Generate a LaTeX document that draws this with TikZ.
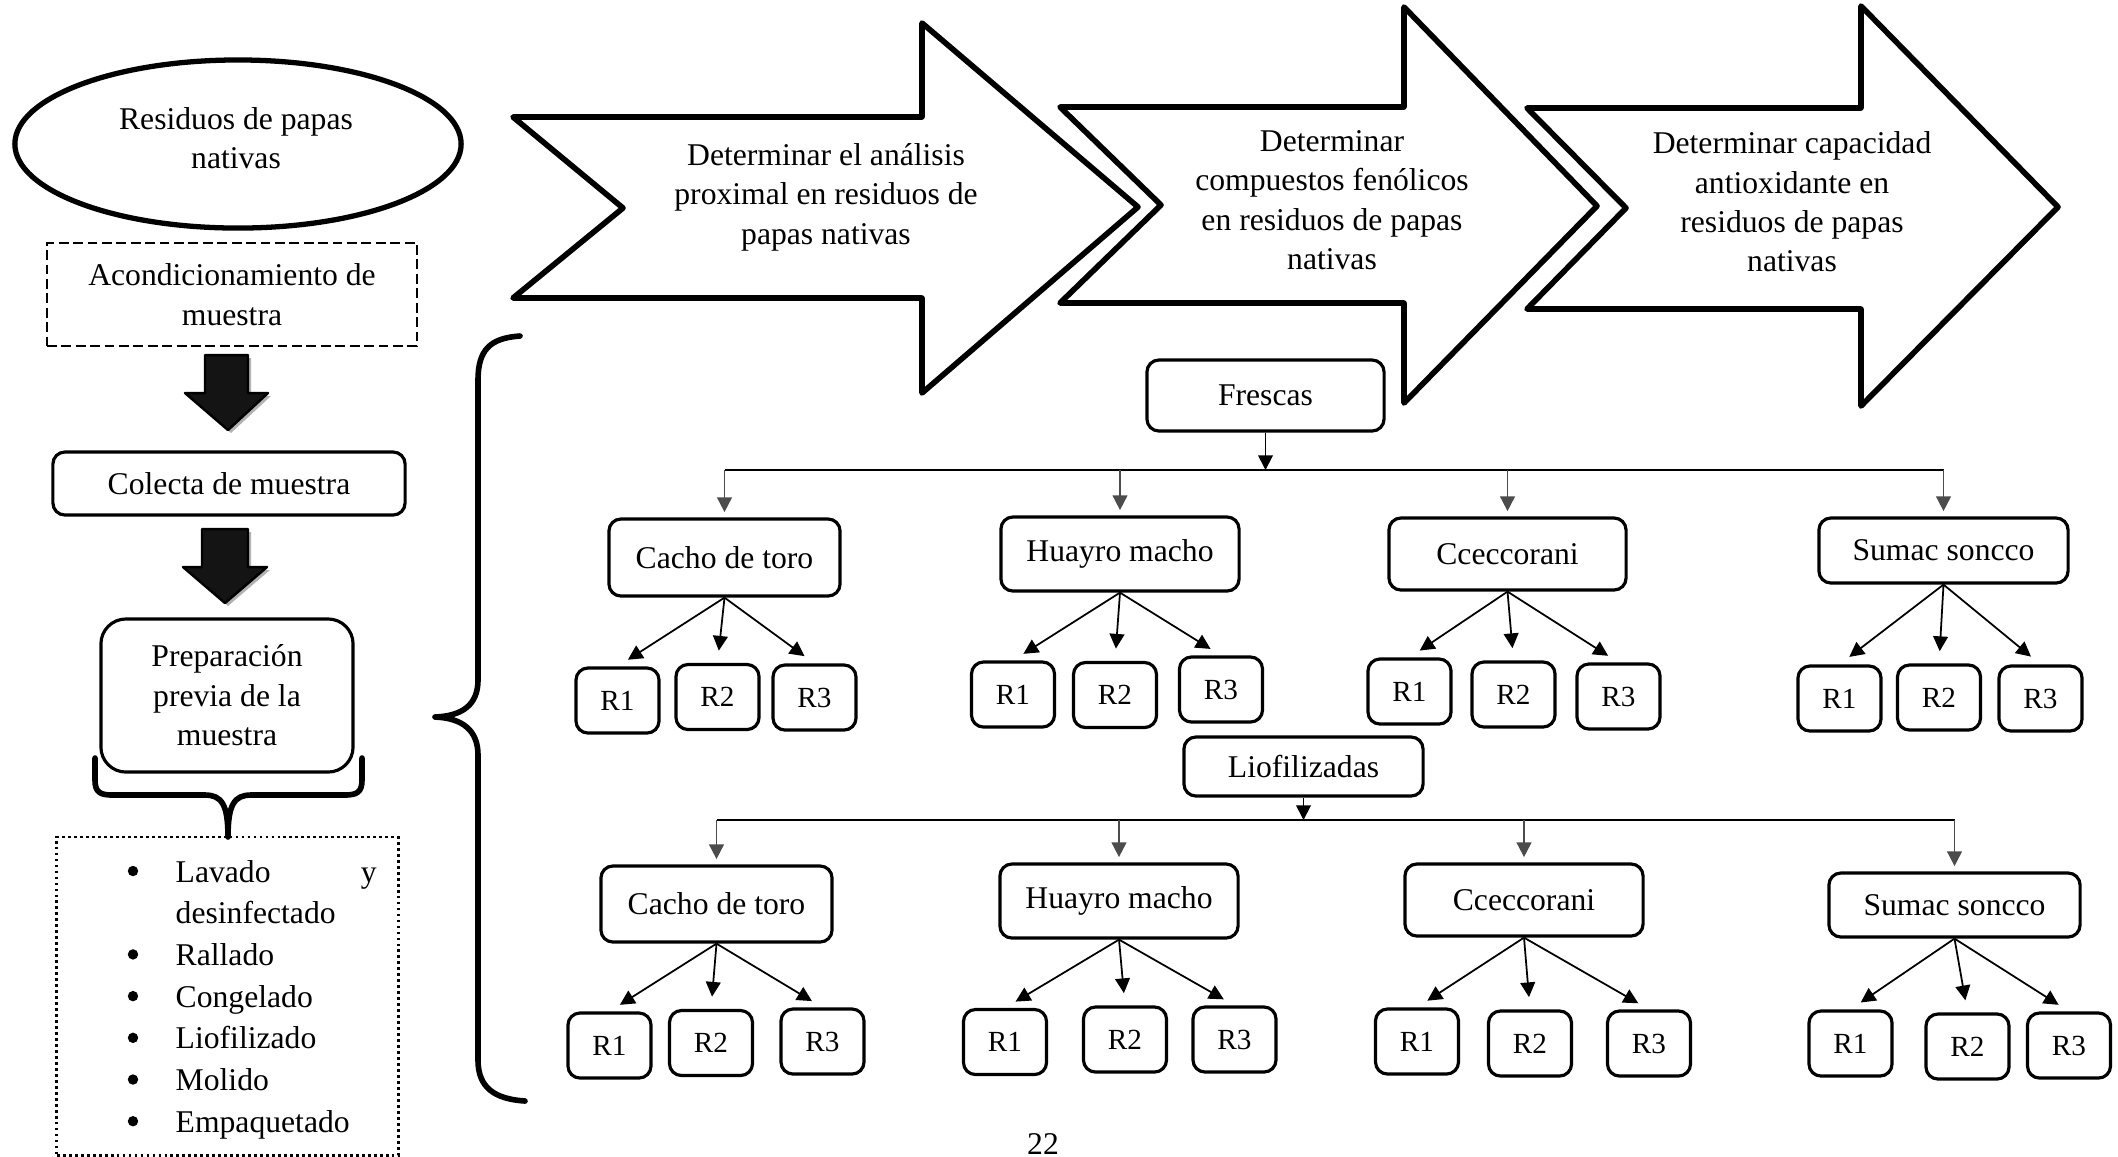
\documentclass[tikz,border=0pt]{standalone}
\usepackage{fontspec}
\setmainfont{Liberation Serif}
\usetikzlibrary{arrows.meta,shapes.geometric}
\newcommand\mainfnt{\fontsize{9}{11.2}\selectfont}
\newcommand\rbxfnt{\fontsize{8.3}{10}\selectfont}
\newcommand\lstfnt{\fontsize{9}{11.86}\selectfont}
\begin{document}
\begin{tikzpicture}[x=0.01cm, y=-0.01cm,
  bigarrow/.style={draw, line width=1.6pt, fill=white, line join=round},
  arrtext/.style={align=center, font=\mainfnt, inner sep=0pt},
  tbox/.style={draw, line width=0.9pt, rounded corners=0.12cm, inner sep=0pt, align=center, font=\mainfnt},
  rbox/.style={tbox, minimum width=0.83cm, minimum height=0.65cm, font=\rbxfnt},
  conn/.style={-{Triangle[length=4.2pt,width=4.2pt]}, line width=0.5pt},
  dropc/.style={conn, draw=black!70, shorten >=1.5pt},
  fanc/.style={conn, shorten >=3.5pt},
  blockarrow/.style={fill=black!92, draw=black, line width=0.7pt, line join=round},
  shadowarrow/.style={fill=black!30},
  bracestyle/.style={line width=1.6pt, line cap=round, line join=round},
]
\useasboundingbox (0,0) rectangle (2118,1156);

% ---------------- big arrows ----------------
\draw[bigarrow] (513,117) -- (922,117) -- (922,23) -- (1138,207) -- (922,393) -- (922,298) -- (513,298) -- (623,208) -- cycle;
\draw[bigarrow] (1060,107) -- (1404,107) -- (1404,7) -- (1597,206) -- (1404,403) -- (1404,303) -- (1060,303) -- (1161,205) -- cycle;
\draw[bigarrow] (1527,108) -- (1861,108) -- (1861,6) -- (2058,207) -- (1861,406) -- (1861,309) -- (1527,309) -- (1626,208) -- cycle;
\node[arrtext] (a1) at (826,197) {Determinar el análisis\\proximal en residuos de\\papas nativas};
\node[arrtext] (a2) at (1332,200) {Determinar\\compuestos fenólicos\\en residuos de papas\\nativas};
\node[arrtext] (a3) at (1792,202) {Determinar capacidad\\antioxidante en\\residuos de papas\\nativas};

% ---------------- left column ----------------
\node[ellipse, draw, line width=1.5pt, minimum width=4.46cm, minimum height=1.68cm, inner sep=0pt] (res) at (238,144) {};
\node[align=center, font=\mainfnt, inner sep=0pt] (rest) at (236,138) {Residuos de papas\\nativas};
\node[draw, line width=0.7pt, dash pattern=on 2.8pt off 1.3pt, minimum width=3.70cm, minimum height=1.03cm, inner sep=0pt, align=center, font=\mainfnt] (acon) at (232,294.5) {Acondicionamiento de\\muestra};

\fill[shadowarrow] (208,358) -- (251,358) -- (251,396) -- (271,396) -- (231,433) -- (188,396) -- (208,396) -- cycle;
\filldraw[blockarrow] (205,355) -- (248,355) -- (248,393) -- (268,393) -- (228,430) -- (185,393) -- (205,393) -- cycle;

\node[tbox, minimum width=3.52cm, minimum height=0.63cm] (col) at (229,483.5) {Colecta de muestra};

\fill[shadowarrow] (205,532) -- (251,532) -- (251,570) -- (270,570) -- (228,606) -- (186,570) -- (205,570) -- cycle;
\filldraw[blockarrow] (202,529) -- (248,529) -- (248,567) -- (267,567) -- (225,603) -- (183,567) -- (202,567) -- cycle;

\node[tbox, rounded corners=0.25cm, minimum width=2.52cm, minimum height=1.53cm] (prep) at (227,695.5) {Preparación\\previa de la\\muestra};

\draw[bracestyle] (95,758) -- (95,780) .. controls (95,792) and (100,795) .. (112,795) -- (205,795) .. controls (222,795) and (228,805) .. (228,837)
  .. controls (228,805) and (234,795) .. (251,795) -- (345,795) .. controls (357,795) and (362,792) .. (362,780) -- (362,758);

\node[draw, line width=0.8pt, dash pattern=on 0.8pt off 0.9pt, minimum width=3.41cm, minimum height=3.18cm, inner sep=0pt] (lst) at (227.5,996) {};
\node[anchor=base west, inner sep=0pt, font=\lstfnt] (items) at (175,882) {%
\begin{tabular}[t]{@{}l@{}}
\makebox[2.01cm][l]{Lavado\hfill y}\\
desinfectado\\
Rallado\\
Congelado\\
Liofilizado\\
Molido\\
Empaquetado
\end{tabular}};
\foreach \k in {0,2,3,4,5,6} \fill (133,871+41.7*\k) circle (0.052cm);

% big brace
\draw[bracestyle] (520,336) .. controls (490,338) and (478,350) .. (478,380) -- (478,680) .. controls (478,705) and (462,716) .. (435,717)
  .. controls (462,718) and (478,730) .. (478,755) -- (478,1060) .. controls (478,1088) and (495,1099) .. (525,1101);

% ---------------- tree: Frescas ----------------
\node[tbox, minimum width=2.37cm, minimum height=0.71cm] (fr) at (1265.5,395.5) {Frescas};
\node[tbox, minimum width=2.31cm, minimum height=0.77cm] (fc) at (724.5,557.5) {Cacho de toro};
\node[tbox, minimum width=2.38cm, minimum height=0.74cm] (fh) at (1120,554) {Huayro macho};
\node[tbox, minimum width=2.37cm, minimum height=0.72cm] (fe) at (1507.5,554) {Cceccorani};
\node[tbox, minimum width=2.49cm, minimum height=0.65cm] (fs) at (1943.5,550.5) {Sumac soncco};

\coordinate (b1) at (0,470);
\draw[line width=0.5pt] (fc.north |- b1) -- (fs.north |- b1);
\draw[conn] (fr.south) -- (fr.south |- b1);
\foreach \n in {fc,fh,fe,fs} \draw[dropc] (\n.north |- b1) -- (\n.north);

\node[rbox] (fc1) at (617.5,700.5) {R1};
\node[rbox] (fc2) at (717.5,697) {R2};
\node[rbox] (fc3) at (814.5,697.5) {R3};
\node[rbox] (fh1) at (1013,694.5) {R1};
\node[rbox] (fh2) at (1115,695) {R2};
\node[rbox] (fh3) at (1221,689.5) {R3};
\node[rbox] (fe1) at (1409.5,691.5) {R1};
\node[rbox] (fe2) at (1513.5,694.5) {R2};
\node[rbox] (fe3) at (1618.5,696.5) {R3};
\node[rbox] (fs1) at (1839.5,698.5) {R1};
\node[rbox] (fs2) at (1939,697.5) {R2};
\node[rbox] (fs3) at (2040.5,698.5) {R3};

% ---------------- tree: Liofilizadas ----------------
\node[tbox, minimum width=2.39cm, minimum height=0.59cm] (lio) at (1303.5,766.5) {Liofilizadas};
\node[tbox, minimum width=2.31cm, minimum height=0.76cm] (lc) at (716.5,904) {Cacho de toro};
\node[tbox, minimum width=2.38cm, minimum height=0.74cm] (lh) at (1119,901) {Huayro macho};
\node[tbox, minimum width=2.38cm, minimum height=0.72cm] (le) at (1524,900) {Cceccorani};
\node[tbox, minimum width=2.51cm, minimum height=0.64cm] (ls) at (1954.5,905) {Sumac soncco};

\coordinate (b2) at (0,820);
\draw[line width=0.5pt] (lc.north |- b2) -- (ls.north |- b2);
\draw[conn] (lio.south) -- (lio.south |- b2);
\foreach \n in {lc,lh,le,ls} \draw[dropc] (\n.north |- b2) -- (\n.north);

\node[rbox] (lc1) at (609.5,1045.5) {R1};
\node[rbox] (lc2) at (711,1043) {R2};
\node[rbox] (lc3) at (822.5,1041.5) {R3};
\node[rbox] (lh1) at (1005,1042) {R1};
\node[rbox] (lh2) at (1125,1039.5) {R2};
\node[rbox] (lh3) at (1234.5,1039.5) {R3};
\node[rbox] (le1) at (1417,1041.5) {R1};
\node[rbox] (le2) at (1530,1043.5) {R2};
\node[rbox] (le3) at (1649,1043.5) {R3};
\node[rbox] (ls1) at (1850.5,1043.5) {R1};
\node[rbox] (ls2) at (1967.5,1046.5) {R2};
\node[rbox] (ls3) at (2069,1045.5) {R3};

% fans
\foreach \p in {fc,fh,fe,fs,lc,lh,le,ls} {
  \draw[fanc] (\p.south) -- (\p1.north);
  \draw[fanc] (\p.south) -- (\p2.north);
  \draw[fanc] (\p.south) -- (\p3.north);
}

% page number
\node[anchor=base, inner sep=0pt, font=\mainfnt] (pg) at (1043,1154) {22};
\end{tikzpicture}
\end{document}
